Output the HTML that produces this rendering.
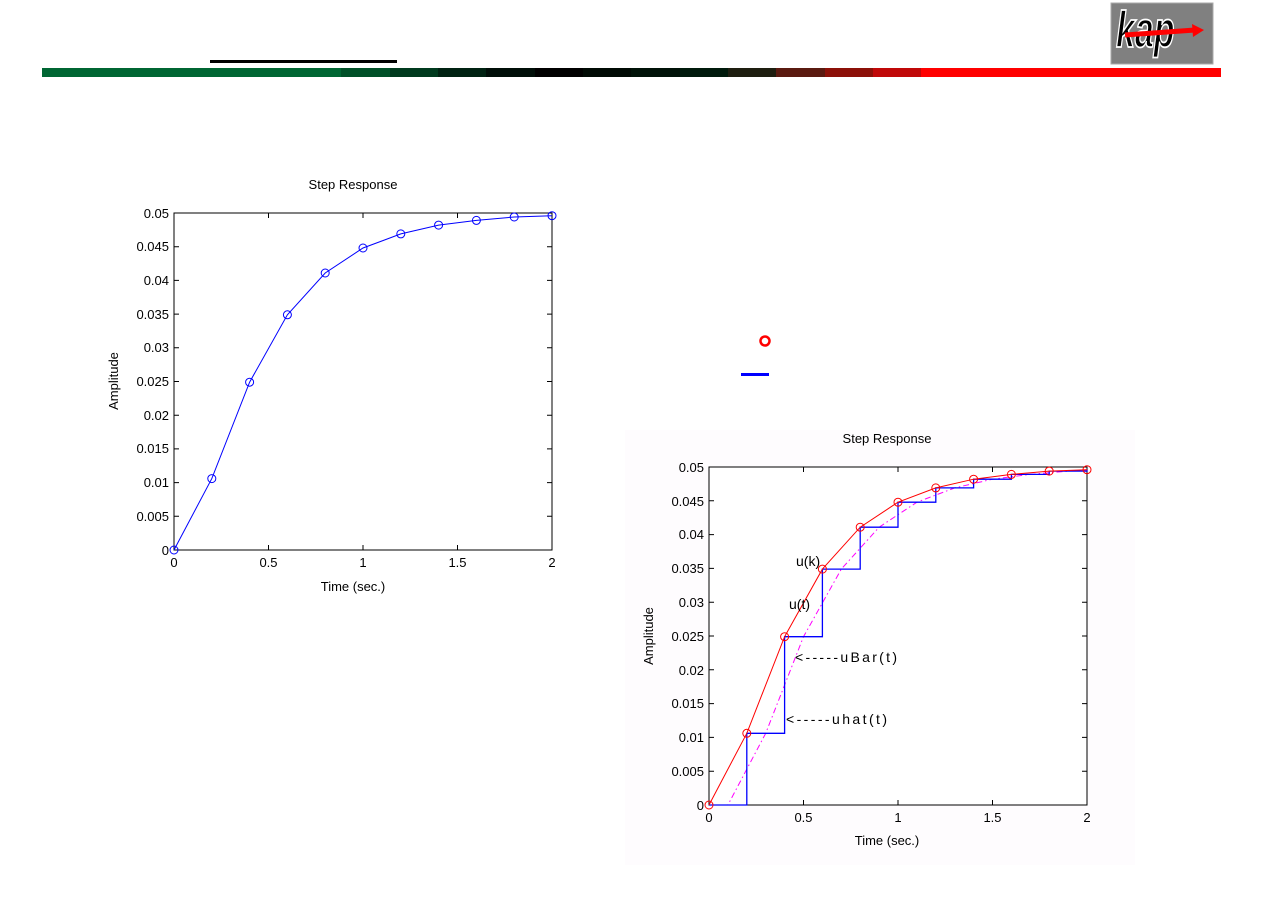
<!DOCTYPE html>
<html><head><meta charset="utf-8"><style>
body{margin:0;background:#fff;width:1263px;height:893px;overflow:hidden;font-family:"Liberation Sans",sans-serif}
</style></head><body>
<svg width="1263" height="893" viewBox="0 0 1263 893" xmlns="http://www.w3.org/2000/svg" font-family="Liberation Sans, sans-serif">
<!-- header -->
<rect x="210" y="60" width="187" height="3" fill="#000"/>
<rect x="42" y="68" width="299" height="9" fill="#006633"/>
<rect x="341" y="68" width="49" height="9" fill="#005028"/>
<rect x="390" y="68" width="48" height="9" fill="#003a1e"/>
<rect x="438" y="68" width="48" height="9" fill="#002212"/>
<rect x="486" y="68" width="49" height="9" fill="#000e08"/>
<rect x="535" y="68" width="48" height="9" fill="#000"/>
<rect x="583" y="68" width="48" height="9" fill="#000a04"/>
<rect x="631" y="68" width="49" height="9" fill="#001208"/>
<rect x="680" y="68" width="48" height="9" fill="#001a0c"/>
<rect x="728" y="68" width="48" height="9" fill="#1e1e10"/>
<rect x="776" y="68" width="49" height="9" fill="#5a1a10"/>
<rect x="825" y="68" width="48" height="9" fill="#8c1008"/>
<rect x="873" y="68" width="48" height="9" fill="#c00808"/>
<rect x="921" y="68" width="300" height="9" fill="#ff0000"/>
<!-- logo -->
<rect x="1111" y="3" width="102" height="61" fill="#808080" stroke="#aaa"/>
<text transform="translate(1116 47) scale(1 1.5)" font-size="34" font-weight="bold" font-style="italic" fill="#000" stroke="#fff" stroke-width="1.2">kap</text>
<path d="M1125 35 L1195 30" stroke="#f00" stroke-width="5"/><path d="M1192 24 L1204 30 L1193 37 Z" fill="#f00"/>

<!-- legend markers -->
<circle cx="765" cy="341" r="4.5" fill="none" stroke="#f00" stroke-width="2.5"/>
<rect x="741" y="373" width="28" height="3" fill="#00f"/>

<!-- LEFT CHART -->
<g font-size="13" fill="#000">
<text x="353" y="189" text-anchor="middle">Step Response</text>
<rect x="174" y="213" width="378" height="337" fill="none" stroke="#000"/>
<g stroke="#000">
<path d="M174 550h5M174 516.3h5M174 482.6h5M174 448.9h5M174 415.2h5M174 381.5h5M174 347.8h5M174 314.1h5M174 280.4h5M174 246.7h5M552 516.3h-5M552 482.6h-5M552 448.9h-5M552 415.2h-5M552 381.5h-5M552 347.8h-5M552 314.1h-5M552 280.4h-5M552 246.7h-5M268.5 550v-5M363 550v-5M457.5 550v-5M268.5 213v5M363 213v5M457.5 213v5"/>
</g>
<g text-anchor="end">
<text x="169" y="218">0.05</text><text x="169" y="251">0.045</text><text x="169" y="285">0.04</text><text x="169" y="319">0.035</text><text x="169" y="352">0.03</text><text x="169" y="386">0.025</text><text x="169" y="420">0.02</text><text x="169" y="453">0.015</text><text x="169" y="487">0.01</text><text x="169" y="521">0.005</text><text x="169" y="555">0</text>
</g>
<g text-anchor="middle">
<text x="174" y="567">0</text><text x="268.5" y="567">0.5</text><text x="363" y="567">1</text><text x="457.5" y="567">1.5</text><text x="552" y="567">2</text>
<text x="353" y="591">Time (sec.)</text>
<text transform="translate(118 381) rotate(-90)">Amplitude</text>
</g>
</g>
<g fill="none" stroke="#00f">
<polyline points="174,550 211.8,478.6 249.6,382.2 287.4,314.8 325.2,273 363,248 400.8,233.9 438.6,225.1 476.4,220.4 514.2,217 552,215.7"/>
<circle cx="174" cy="550" r="4"/><circle cx="211.8" cy="478.6" r="4"/><circle cx="249.6" cy="382.2" r="4"/><circle cx="287.4" cy="314.8" r="4"/><circle cx="325.2" cy="273" r="4"/><circle cx="363" cy="248" r="4"/><circle cx="400.8" cy="233.9" r="4"/><circle cx="438.6" cy="225.1" r="4"/><circle cx="476.4" cy="220.4" r="4"/><circle cx="514.2" cy="217" r="4"/><circle cx="552" cy="215.7" r="4"/>
</g>

<!-- RIGHT CHART -->
<rect x="625" y="430" width="510" height="435" fill="#fefcfe"/>
<g font-size="13" fill="#000">
<text x="887" y="443" text-anchor="middle">Step Response</text>
<rect x="709" y="467" width="378" height="338" fill="#fff" stroke="#000"/>
<g stroke="#000">
<path d="M709 771.2h5M709 737.4h5M709 703.6h5M709 669.8h5M709 636h5M709 602.2h5M709 568.4h5M709 534.6h5M709 500.8h5M1087 771.2h-5M1087 737.4h-5M1087 703.6h-5M1087 669.8h-5M1087 636h-5M1087 602.2h-5M1087 568.4h-5M1087 534.6h-5M1087 500.8h-5M803.5 805v-5M898 805v-5M992.5 805v-5M803.5 467v5M898 467v5M992.5 467v5"/>
</g>
<g text-anchor="end">
<text x="704" y="472">0.05</text><text x="704" y="506">0.045</text><text x="704" y="539">0.04</text><text x="704" y="573">0.035</text><text x="704" y="607">0.03</text><text x="704" y="641">0.025</text><text x="704" y="675">0.02</text><text x="704" y="708">0.015</text><text x="704" y="742">0.01</text><text x="704" y="776">0.005</text><text x="704" y="810">0</text>
</g>
<g text-anchor="middle">
<text x="709" y="822">0</text><text x="803.5" y="822">0.5</text><text x="898" y="822">1</text><text x="992.5" y="822">1.5</text><text x="1087" y="822">2</text>
<text x="887" y="845">Time (sec.)</text>
<text transform="translate(653 636) rotate(-90)">Amplitude</text>
</g>
</g>
<polyline fill="none" stroke="#ff00ff" stroke-dasharray="6,3,1.5,3" points="709,805 727.9,805 765.7,733.3 803.5,636.7 841.3,569.1 879.1,527.2 916.9,502.2 954.7,487.9 992.5,479.2 1030.3,474.4 1068.1,471.1 1087,469.7"/>
<polyline fill="none" stroke="#00f" stroke-width="1.3" points="709,805 746.8,805 746.8,733.3 784.6,733.3 784.6,636.7 822.4,636.7 822.4,569.1 860.2,569.1 860.2,527.2 898,527.2 898,502.2 935.8,502.2 935.8,487.9 973.6,487.9 973.6,479.2 1011.4,479.2 1011.4,474.4 1049.2,474.4 1049.2,471.1 1087,471.1 1087,469.7"/>
<g fill="none" stroke="#f00">
<polyline points="709,805 746.8,733.3 784.6,636.7 822.4,569.1 860.2,527.2 898,502.2 935.8,487.9 973.6,479.2 1011.4,474.4 1049.2,471.1 1087,469.7"/>
<circle cx="709" cy="805" r="4"/><circle cx="746.8" cy="733.3" r="4"/><circle cx="784.6" cy="636.7" r="4"/><circle cx="822.4" cy="569.1" r="4"/><circle cx="860.2" cy="527.2" r="4"/><circle cx="898" cy="502.2" r="4"/><circle cx="935.8" cy="487.9" r="4"/><circle cx="973.6" cy="479.2" r="4"/><circle cx="1011.4" cy="474.4" r="4"/><circle cx="1049.2" cy="471.1" r="4"/><circle cx="1087" cy="469.7" r="4"/>
</g>
<g font-size="14" fill="#000">
<text x="796" y="566">u(k)</text>
<text x="789" y="609">u(t)</text>
<text x="795" y="662" textLength="102">&lt;-----uBar(t)</text>
<text x="786" y="724" textLength="101">&lt;-----uhat(t)</text>
</g>
</svg>
</body></html>
